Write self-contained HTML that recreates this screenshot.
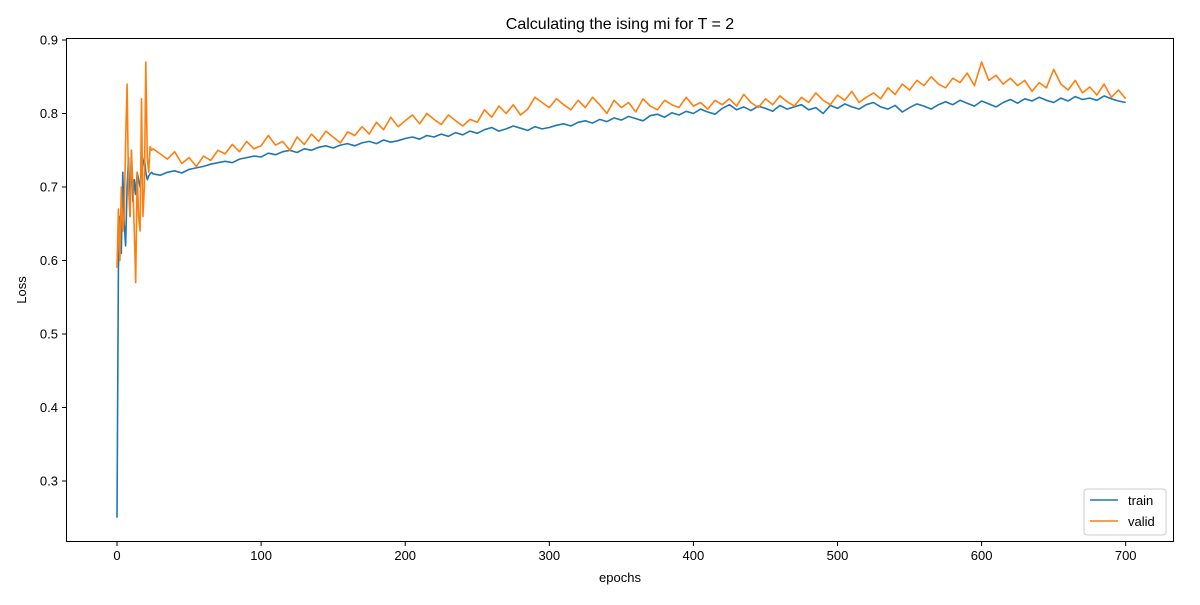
<!DOCTYPE html>
<html><head><meta charset="utf-8"><style>
body{margin:0;background:#fff}
svg text{font-family:"Liberation Sans","DejaVu Sans",sans-serif;fill:#000}
</style></head><body>
<svg id="chart" width="1200" height="600" xmlns="http://www.w3.org/2000/svg">
<rect width="1200" height="600" fill="#fff"/>
<text x="620" y="29" font-size="16" text-anchor="middle">Calculating the ising mi for T = 2</text>
<g id="axes"></g>
<g id="lines"></g>
<rect x="66.5" y="38.5" width="1107" height="503" fill="none" stroke="#000" stroke-width="1"/>
<text x="620" y="582" font-size="13" text-anchor="middle">epochs</text>
<text transform="translate(26,290) rotate(-90)" font-size="13" text-anchor="middle">Loss</text>
<g>
<rect x="1084" y="489" width="82" height="46" rx="3" fill="#fff" fill-opacity="0.8" stroke="#ccc"/>
<g><line x1="1090" y1="500" x2="1118" y2="500" stroke="#1f77b4" stroke-width="1.6"/><text x="1128" y="505" font-size="13">train</text></g>
<g><line x1="1090" y1="521" x2="1118" y2="521" stroke="#ff7f0e" stroke-width="1.6"/><text x="1128" y="526" font-size="13">valid</text></g>
</g>
</svg>
<script>
const xTicks=[0,100,200,300,400,500,600,700];
const yTicks=[0.3,0.4,0.5,0.6,0.7,0.8,0.9];
const earlyTrain=[0.25,0.59,0.66,0.61,0.72,0.65,0.62,0.70,0.74,0.66,0.75,0.68,0.71,0.69,0.72,0.71,0.70,0.72,0.73,0.74,0.72,0.71,0.715,0.718,0.72];
const earlyValid=[0.59,0.67,0.60,0.70,0.64,0.66,0.76,0.84,0.70,0.66,0.75,0.70,0.64,0.57,0.72,0.66,0.64,0.82,0.66,0.70,0.87,0.74,0.72,0.755,0.75];
const lateTrain=[.718,.716,.720,.722,.719,.724,.726,.728,.731,.733,.735,.733,.738,.740,.742,.741,.746,.744,.748,.750,.747,.752,.750,.754,.756,.753,.757,.759,.756,.760,.762,.759,.764,.761,.763,.766,.768,.765,.770,.768,.772,.769,.774,.771,.776,.773,.778,.781,.776,.779,.783,.780,.777,.782,.779,.781,.784,.786,.783,.788,.790,.787,.792,.789,.794,.791,.796,.793,.790,.797,.799,.795,.801,.798,.803,.800,.806,.802,.799,.807,.812,.805,.809,.804,.810,.807,.803,.811,.806,.809,.812,.805,.808,.800,.811,.807,.813,.809,.806,.812,.815,.809,.806,.811,.802,.808,.813,.810,.806,.812,.816,.812,.818,.814,.810,.817,.813,.809,.815,.819,.814,.820,.817,.822,.818,.815,.821,.817,.823,.819,.821,.818,.824,.820,.817,.815];
const lateValid=[.752,.745,.738,.748,.732,.740,.728,.742,.736,.750,.745,.758,.748,.762,.752,.756,.770,.757,.762,.750,.768,.758,.772,.762,.776,.768,.760,.775,.770,.782,.772,.788,.778,.795,.782,.790,.798,.786,.800,.792,.785,.798,.790,.783,.792,.788,.805,.795,.810,.800,.812,.798,.806,.822,.815,.808,.820,.812,.805,.818,.808,.822,.812,.800,.818,.808,.815,.802,.820,.810,.805,.818,.812,.808,.822,.810,.815,.806,.818,.812,.820,.810,.826,.815,.808,.820,.812,.824,.816,.810,.822,.815,.828,.818,.812,.825,.818,.830,.815,.822,.828,.820,.835,.826,.840,.832,.845,.838,.850,.840,.835,.848,.842,.855,.838,.870,.845,.852,.840,.848,.838,.845,.830,.842,.835,.860,.840,.832,.845,.828,.836,.825,.840,.822,.832,.820];
const NS="http://www.w3.org/2000/svg";
const xs=v=>117+v*1.441;
const ys=v=>481-(v-0.3)*735;
const ax=document.getElementById('axes');
function mk(t,a,p){const e=document.createElementNS(NS,t);for(const k in a)e.setAttribute(k,a[k]);p.appendChild(e);return e;}
xTicks.forEach(t=>{
 const g=mk('g',{},ax);
 
 
 mk('line',{x1:xs(t),x2:xs(t),y1:542,y2:546,stroke:'#000'},g);
 const tx=mk('text',{x:xs(t),y:560,'font-size':13,'text-anchor':'middle'},g);tx.textContent=t;
});
yTicks.forEach(t=>{
 const g=mk('g',{},ax);
 
 
 mk('line',{x1:62,x2:66,y1:ys(t),y2:ys(t),stroke:'#000'},g);
 const tx=mk('text',{x:58,y:ys(t)+4.5,'font-size':13,'text-anchor':'end'},g);tx.textContent=t.toFixed(1);
});
function series(early,late){const p=[];early.forEach((v,i)=>p.push([i,v]));late.forEach((v,i)=>p.push([25+i*5,v]));return p;}
const L=document.getElementById('lines');
[[earlyTrain,lateTrain,'#1f77b4','train-line'],[earlyValid,lateValid,'#ff7f0e','valid-line']].forEach(s=>{
 const d=series(s[0],s[1]).map((p,i)=>(i?'L':'M')+xs(p[0]).toFixed(1)+','+ys(p[1]).toFixed(1)).join('');
 const e=mk('path',{d:d,fill:'none',stroke:s[2],'stroke-width':1.6,'stroke-linejoin':'round'},L);
 
 
});
</script>
</body></html>
